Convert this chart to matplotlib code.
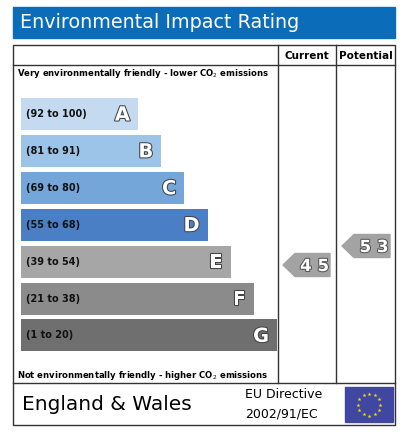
import matplotlib
matplotlib.use("Agg")
import matplotlib.pyplot as plt
import matplotlib.patheffects as pe
from matplotlib.patches import Rectangle, Polygon
import numpy as np

bands = ["A", "B", "C", "D", "E", "F", "G"]
ranges = ["(92 to 100)", "(81 to 91)", "(69 to 80)", "(55 to 68)", "(39 to 54)", "(21 to 38)", "(1 to 20)"]
colors = ["#c3daf1", "#9cc3e8", "#74a6da", "#4a7fc5", "#a6a6a6", "#8b8b8b", "#6f6f6f"]
current = 45
potential = 53

fig = plt.figure(figsize=(4.08, 4.37), dpi=100)
ax = fig.add_axes([0, 0, 1, 1])
ax.set_xlim(0, 408); ax.set_ylim(437, 0); ax.axis("off")

ax.add_patch(Rectangle((13, 7), 382, 31, color="#0b6cb9"))
ax.text(20, 23, "Environmental Impact Rating", color="white", fontsize=13.8, va="center", ha="left")

lw = 1.0
ax.add_patch(Rectangle((13, 45), 382, 380, fill=False, ec="#333333", lw=lw))
ax.plot([13, 395], [65, 65], color="#333333", lw=lw)
ax.plot([13, 395], [383, 383], color="#333333", lw=lw)
ax.plot([278, 278], [45, 383], color="#333333", lw=lw)
ax.plot([336, 336], [45, 383], color="#333333", lw=lw)
ax.text(307, 56, "Current", fontsize=7.5, weight="bold", ha="center", va="center")
ax.text(365.5, 56, "Potential", fontsize=7.5, weight="bold", ha="center", va="center")

ax.text(17, 73, "Very environmentally friendly - lower CO$_2$ emissions", fontsize=6.1, weight="bold", va="center")
ax.text(17, 375, "Not environmentally friendly - higher CO$_2$ emissions", fontsize=6.1, weight="bold", va="center")

y0 = 114; dy = 36.9; h = 32
for i, (b, r, c) in enumerate(zip(bands, ranges, colors)):
    yc = y0 + i * dy
    right = 138 + i * 23.2
    ax.barh(yc, right - 21, left=21, height=h, color=c)
    ax.text(26, yc, r, fontsize=7, weight="bold", va="center", ha="left", color="#111111")
    ax.text(right - 8, yc + 1, b, fontsize=14, weight="bold", color="white", ha="right", va="center",
            path_effects=[pe.withStroke(linewidth=1.5, foreground="#444444")])

def arrow(x0, x1, yc, val):
    hh = 11.5
    ax.add_patch(Polygon([(x0, yc), (x0 + 12, yc - hh), (x1, yc - hh), (x1, yc + hh), (x0 + 12, yc + hh)],
                         closed=True, color="#a3a3a3"))
    ax.text((x0 + 12 + x1) / 2 + 2, yc + 1, " ".join(str(val)), fontsize=12, weight="bold", color="white",
            ha="center", va="center", path_effects=[pe.withStroke(linewidth=1.5, foreground="#555555")])

arrow(283, 330, 265, current)
arrow(342, 390, 246, potential)

ax.text(22, 405, "England & Wales", fontsize=14.5, va="center")
ax.text(245, 395, "EU Directive", fontsize=9, va="center")
ax.text(245, 414, "2002/91/EC", fontsize=9, va="center")
ax.add_patch(Rectangle((345, 387), 48, 35, color="#3f47a3"))
ang = np.linspace(0, 2 * np.pi, 13)[:-1]
ax.scatter(369 + 11 * np.cos(ang), 404.5 + 11 * np.sin(ang), marker="*", s=9, color="#f5d90a", lw=0)

fig.savefig("out.png", dpi=100)
